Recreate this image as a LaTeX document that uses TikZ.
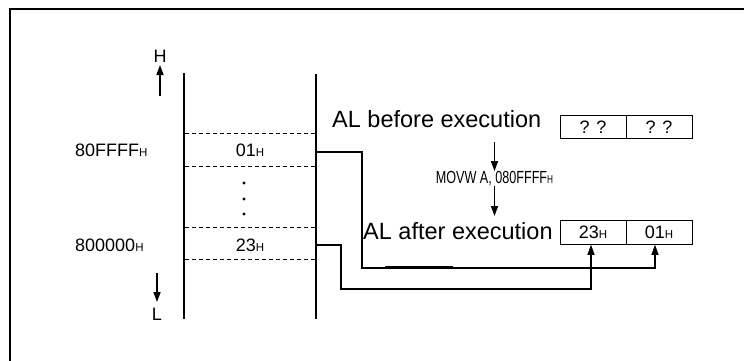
\documentclass[tikz,border=0pt]{standalone}
\usepackage{fontspec}
\setmainfont{Liberation Sans}
\usetikzlibrary{arrows.meta}
\newcommand{\hsub}{{\fontsize{11.5}{11.5}\selectfont H}}
\tikzset{
  memline/.style={line width=1.8pt},
  dashline/.style={line width=0.9pt, dash pattern=on 4pt off 3pt},
  conn/.style={line width=1.1pt},
  tip/.style={-{Triangle[length=10pt,width=7pt]}},
  big/.style={font=\fontsize{23.5}{24}\selectfont, inner sep=0pt},
  lab/.style={font=\fontsize{18}{18}\selectfont, inner sep=0pt},
  cell/.style={draw, line width=1pt, minimum width=66pt, minimum height=23.5pt, inner sep=0pt, font=\fontsize{18}{18}\selectfont},
  dot/.style={circle, fill, inner sep=0pt, minimum size=3.4pt}
}
\begin{document}
\begin{tikzpicture}[x=1pt,y=-1pt]
\clip (0,0) rectangle (744,360);
\fill[white] (0,0) rectangle (744,360);
% frame (only top and left edges visible)
\draw[line width=2.8pt] (10,380) -- (10,9) -- (760,9);

% memory column
\coordinate (lt) at (184,73);
\coordinate (lb) at (184,319);
\coordinate (rt) at (316,74);
\coordinate (rb) at (316,319);
\draw[memline] (lt) -- (lb);
\draw[memline] (rt) -- (rb);
\foreach \yy/\nm in {133/d1,166/d2,227/d3,259/d4}{
  \coordinate (\nm l) at (185,\yy);
  \coordinate (\nm r) at (315,\yy);
  \draw[dashline] (\nm l) -- (\nm r);
}
\node[dot] (p1) at (244,183) {};
\node[dot] (p2) at (244,199) {};
\node[dot] (p3) at (244,214) {};

\node[lab, anchor=base] (v1) at (250,156.5) {01\hsub};
\node[lab, anchor=base] (v2) at (250,251.5) {23\hsub};
\node[lab, anchor=base west] (a1) at (75,156.5) {80FFFF\hsub};
\node[lab, anchor=base west] (a2) at (75,251.5) {800000\hsub};

% H / L arrows
\node[lab, anchor=base] (hl) at (160,62) {H};
\coordinate (hb) at (160,96);
\draw[conn, line width=1.5pt, tip] (hb) -- (160,65);
\coordinate (lt2) at (157,273);
\node[lab, anchor=base] (ll) at (157,320) {L};
\draw[conn, line width=1.5pt, tip] (lt2) -- (157,302);

% AL before
\node[big, anchor=base west] (bef) at (332,127) {AL before execution};
\node[cell] (bl) at (593,127) {? ?};
\node[cell] (br) at (659,127) {? ?};
\node[lab, anchor=center, font=\fontsize{17.5}{17.5}\selectfont] (mov) at (494.5,178.5) {\scalebox{0.72}[1]{MOVW A, 080FFFF\hsub}};
\draw[conn, line width=1.5pt, tip] (494.5,142) -- (mov.north);
\draw[conn, line width=1.5pt, tip] (mov.south) -- (494.5,216);
\node[big, anchor=base west] (aft) at (363,239) {AL after execution};
\node[cell] (al) at (593,232.5) {23\hsub};
\node[cell] (ar) at (659,232.5) {01\hsub};

% connectors
\coordinate (m1) at (317,152);
\coordinate (m2) at (317,245);
\draw[conn, tip] (m1) -- (362,152) -- (362,268) -- (655,268) -- ([xshift=-4pt]ar.south);
\draw[line width=2.4pt] (385,267) -- (453,267);
\draw[conn, tip] (m2) -- (341,245) -- (341,289) -- (591,289) -- ([xshift=-2pt]al.south);
\end{tikzpicture}
\end{document}
